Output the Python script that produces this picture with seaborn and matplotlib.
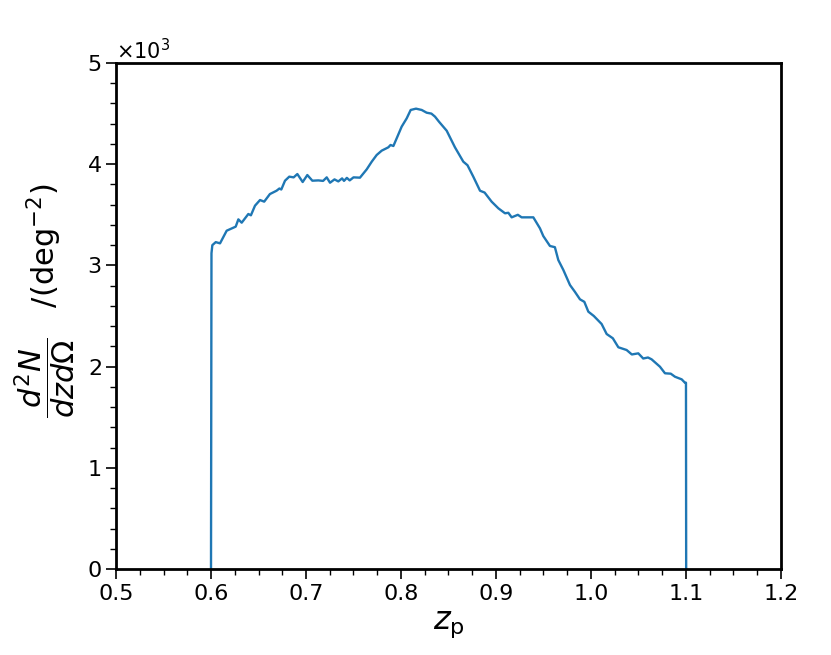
import numpy as np
import pandas as pd
import matplotlib
matplotlib.use('Agg')
import matplotlib.pyplot as plt
import seaborn as sns
from matplotlib.ticker import MultipleLocator

# redshift samples
z_p = [0.600, 0.6005, 0.6014, 0.6050, 0.6095, 0.6165, 0.6260, 0.6288, 0.6323, 0.6393,
       0.6420, 0.6463, 0.6516, 0.6560, 0.6620, 0.6690, 0.6720, 0.6740, 0.6779, 0.6824,
       0.6870, 0.6909, 0.6965, 0.7014, 0.7067, 0.7130, 0.7180, 0.7218, 0.7253, 0.7300,
       0.7340, 0.7380, 0.7400, 0.7430, 0.7460, 0.7500, 0.7568, 0.7639, 0.7692, 0.7744,
       0.7797, 0.7867, 0.7890, 0.7920, 0.7962, 0.8007, 0.8060, 0.8102, 0.8158, 0.8218,
       0.8270, 0.8320, 0.8358, 0.8400, 0.8481, 0.8568, 0.8656, 0.8700, 0.8761, 0.8832,
       0.8880, 0.8954, 0.9025, 0.9095, 0.9130, 0.9165, 0.9230, 0.9270, 0.9393, 0.9463,
       0.9498, 0.9568, 0.9620, 0.9656, 0.9709, 0.9779, 0.9830, 0.9884, 0.9930, 0.9972,
       1.0030, 1.0112, 1.0165, 1.0230, 1.0288, 1.0375, 1.0430, 1.0498, 1.0550, 1.0600,
       1.0638, 1.0726, 1.0779, 1.0840, 1.0884, 1.0955, 1.0989, 1.1000, 1.1002]
# surface density d2N/dz/dOmega (deg^-2)
dn_dz = [0, 3120, 3200, 3230, 3218, 3343, 3383, 3455, 3422, 3508,
         3495, 3590, 3646, 3630, 3705, 3738, 3760, 3750, 3837, 3877,
         3870, 3903, 3824, 3893, 3837, 3840, 3835, 3870, 3817, 3850,
         3830, 3860, 3835, 3865, 3840, 3870, 3867, 3949, 4025, 4091,
         4134, 4167, 4190, 4180, 4272, 4371, 4453, 4536, 4549, 4536,
         4509, 4500, 4470, 4420, 4331, 4167, 4025, 3990, 3877, 3738,
         3720, 3630, 3564, 3515, 3520, 3475, 3500, 3475, 3475, 3366,
         3290, 3192, 3180, 3053, 2955, 2806, 2740, 2665, 2640, 2543,
         2500, 2421, 2322, 2280, 2191, 2164, 2120, 2131, 2080, 2090,
         2072, 1999, 1934, 1930, 1900, 1874, 1841, 1841, 0]

df = pd.DataFrame({'z': z_p, 'n': dn_dz})

sns.set_style('ticks')
plt.rcParams['font.family'] = ['DejaVu Sans']
plt.rcParams['mathtext.fontset'] = 'dejavusans'
plt.rcParams['text.color'] = 'black'
plt.rcParams['axes.labelcolor'] = 'black'
plt.rcParams['xtick.color'] = 'black'
plt.rcParams['ytick.color'] = 'black'

fig = plt.figure(figsize=(8.31, 6.55), dpi=100)
ax = fig.add_axes([0.1396, 0.1313, 0.8002, 0.7725])
sns.lineplot(data=df, x='z', y='n', ax=ax, color='#1f77b4', linewidth=1.7,
             sort=False, estimator=None)

ax.set_xlim(0.5, 1.2)
ax.set_ylim(0, 5000)
ax.xaxis.set_major_locator(MultipleLocator(0.1))
ax.xaxis.set_minor_locator(MultipleLocator(0.025))
ax.yaxis.set_major_locator(MultipleLocator(1000))
ax.yaxis.set_minor_locator(MultipleLocator(200))
ax.ticklabel_format(axis='y', style='sci', scilimits=(3, 3), useMathText=True)
ax.yaxis.get_offset_text().set_fontsize(15)

for s in ax.spines.values():
    s.set_linewidth(2)
    s.set_color('black')
ax.tick_params(which='major', length=7, width=1.2, labelsize=16, direction='out',
               colors='black')
ax.tick_params(which='minor', length=4, width=1, direction='out', colors='black')

ax.set_xlabel(r'$z_{\mathrm{p}}$', fontsize=23)
ax.set_ylabel(r'$\dfrac{d^2N}{dzd\Omega}$   /(deg$^{-2}$)', fontsize=22)
ax.yaxis.set_label_coords(-0.057, 0.53)

plt.savefig('out.png', dpi=100)
